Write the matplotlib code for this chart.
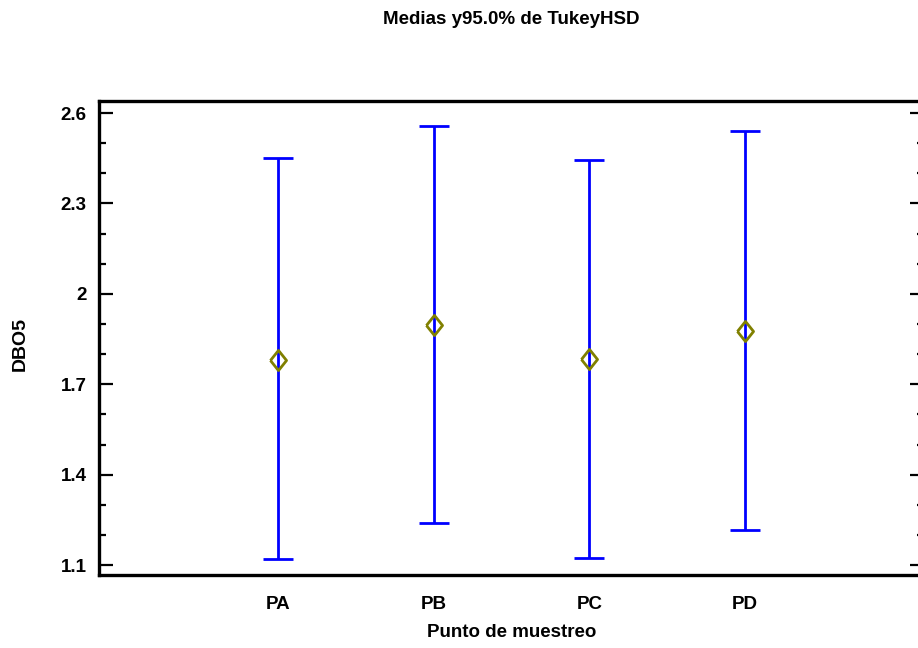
import numpy as np
import matplotlib.pyplot as plt
from matplotlib.ticker import FixedLocator, MultipleLocator

plt.rcParams['font.family'] = ['Liberation Sans Narrow', 'Liberation Sans', 'DejaVu Sans']

groups = ['PA', 'PB', 'PC', 'PD']
means = [1.781, 1.897, 1.783, 1.877]
lower = [1.121, 1.238, 1.123, 1.217]
upper = [2.450, 2.558, 2.443, 2.540]
yticks = [1.1, 1.4, 1.7, 2.0, 2.3, 2.6]
ytick_labels = ['1.1', '1.4', '1.7', '2', '2.3', '2.6']

fig = plt.figure(figsize=(9.18, 6.48), dpi=100)
ax = fig.add_axes([99/918, 73/648, 825/918, 474/648])

x = np.arange(len(groups))
means = np.array(means)
err = [means - np.array(lower), np.array(upper) - means]
ax.errorbar(x, means, yerr=err, fmt='none', ecolor='blue', elinewidth=2,
            capsize=10.5, capthick=2)

diamond = [(-0.4, 0), (0, 0.5), (0.4, 0), (0, -0.5), (-0.4, 0)]
ax.plot(x, means, linestyle='none', marker=diamond, markersize=14.5,
        markerfacecolor='none', markeredgecolor='#808000', markeredgewidth=2)

ax.set_xlim(-1.15, 4.15)
ax.set_ylim(1.067, 2.64)
ax.set_xticks(x)
ax.set_xticklabels(groups, fontsize=13.5, fontweight='bold')
ax.tick_params(axis='x', length=0, pad=15)

ax.yaxis.set_major_locator(FixedLocator(yticks))
ax.set_yticklabels(ytick_labels, fontsize=13.5, fontweight='bold')
ax.yaxis.set_minor_locator(MultipleLocator(0.1))
ax.tick_params(axis='y', which='major', direction='in', length=10, width=1.6,
               left=True, right=True, pad=9)
ax.tick_params(axis='y', which='minor', direction='in', length=5, width=1.6,
               left=True, right=True)

for s in ax.spines.values():
    s.set_linewidth(2.4)

ax.set_xlabel('Punto de muestreo', fontsize=13.5, fontweight='bold', labelpad=8)
fig.text(20/918, 1 - 344/648, 'DBO5', rotation=90, fontsize=14, fontweight='bold',
         family=['Liberation Sans', 'DejaVu Sans'], ha='center', va='center')
fig.text(511/918, 1 - 20/648, 'Medias y95.0% de TukeyHSD', fontsize=13.5,
         fontweight='bold', ha='center', va='center')

fig.savefig('out.png', dpi=100)
